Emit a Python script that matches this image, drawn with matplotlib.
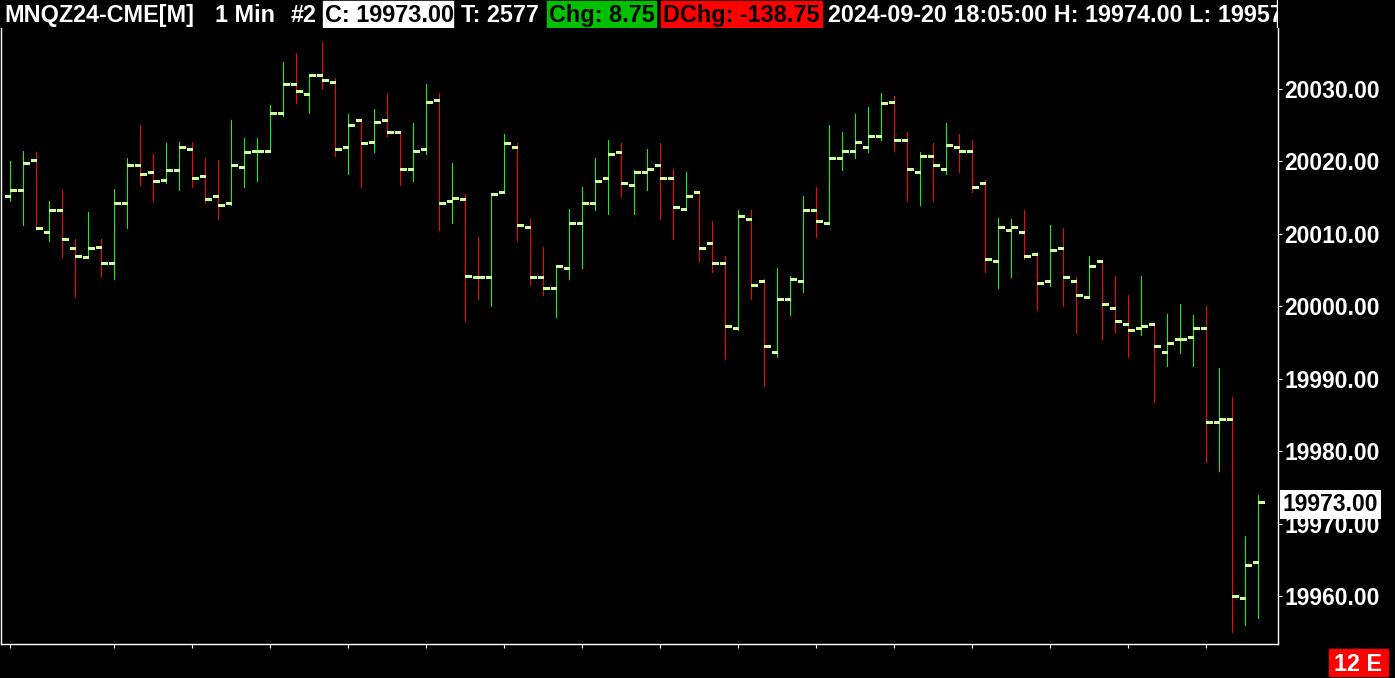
import numpy as np
import matplotlib
matplotlib.use('Agg')
import matplotlib.pyplot as plt
import matplotlib.transforms as mtransforms
from matplotlib.patches import Rectangle

# MNQZ24 1 minute bars (open, high, low, close)
opens = [20015.25, 20016.0, 20020.25, 20010.25, 20013.25, 20008.0, 20006.75, 20008.25, 20006.0, 20014.25,
         20019.5, 20018.5, 20017.5, 20018.75, 20021.75, 20018.0, 20015.25, 20014.25, 20019.25, 20021.5,
         20021.5, 20026.75, 20030.75, 20029.25, 20032.0, 20031.0, 20022.0, 20025.75, 20022.75, 20025.75,
         20024.0, 20019.0, 20021.75, 20028.5, 20014.5, 20014.75, 20004.0, 20004.0, 20015.75, 20022.0,
         20011.0, 20004.0, 20002.5, 20005.25, 20011.5, 20014.25, 20017.75, 20021.25, 20016.75, 20018.5,
         20019.5, 20017.75, 20013.5, 20015.75, 20008.75, 20006.0, 19997.0, 20012.0, 20003.5, 19993.75,
         20001.0, 20003.5, 20013.25, 20011.5, 20020.5, 20021.5, 20022.0, 20023.5, 20028.25, 20023.0,
         20018.5, 20020.75, 20019.0, 20022.0, 20021.5, 20017.0, 20006.25, 20010.5, 20010.25, 20007.25,
         20003.5, 20008.0, 20003.5, 20001.25, 20006.25, 19999.75, 19997.5, 19997.0, 19997.5, 19993.75,
         19995.5, 19995.75, 19997.0, 19984.0, 19984.5, 19959.75, 19964.75]
highs = [20020.0, 20021.5, 20021.25, 20014.5, 20016.0, 20009.25, 20013.0, 20009.25, 20016.25, 20020.5,
         20025.0, 20021.0, 20022.5, 20022.75, 20022.75, 20020.5, 20020.25, 20025.75, 20023.25, 20023.25,
         20027.75, 20033.75, 20035.0, 20032.0, 20036.5, 20031.5, 20026.5, 20026.0, 20027.25, 20029.25,
         20024.25, 20025.25, 20030.75, 20029.5, 20019.75, 20015.5, 20009.5, 20015.5, 20023.75, 20022.5,
         20012.0, 20008.25, 20005.5, 20013.5, 20016.5, 20020.5, 20023.0, 20022.5, 20018.75, 20021.75,
         20022.5, 20019.0, 20018.5, 20015.75, 20011.75, 20007.0, 20013.25, 20013.25, 20003.75, 20005.25,
         20004.25, 20015.25, 20016.5, 20025.0, 20024.0, 20026.5, 20027.5, 20029.5, 20029.0, 20024.0,
         20021.25, 20022.5, 20025.25, 20023.75, 20023.0, 20017.5, 20012.25, 20012.0, 20013.25, 20007.5,
         20011.25, 20010.75, 20004.0, 20007.0, 20006.25, 20004.25, 20001.5, 20004.25, 19997.5, 19999.0,
         20000.25, 19998.75, 20000.0, 19991.5, 19987.5, 19968.25, 19974.0]
lows = [20014.5, 20011.25, 20010.5, 20009.0, 20006.75, 20001.25, 20006.75, 20004.25, 20003.75, 20010.75,
        20016.75, 20014.5, 20017.0, 20016.0, 20016.5, 20014.25, 20012.0, 20014.0, 20016.5, 20017.25,
        20021.25, 20026.25, 20028.0, 20026.75, 20030.0, 20020.75, 20018.25, 20016.5, 20021.25, 20023.5,
        20016.75, 20017.25, 20021.0, 20010.5, 20011.5, 19998.0, 20001.0, 20000.0, 20015.75, 20009.0,
        20003.0, 20001.5, 19998.5, 20003.75, 20005.25, 20013.25, 20012.75, 20015.25, 20012.75, 20016.0,
        20012.0, 20009.25, 20013.5, 20006.25, 20004.75, 19992.75, 19996.75, 20001.0, 19989.0, 19993.0,
        19998.75, 20002.0, 20009.5, 20011.5, 20018.75, 20020.5, 20021.25, 20023.0, 20021.5, 20014.5,
        20014.0, 20014.5, 20018.25, 20018.5, 20015.75, 20004.75, 20002.5, 20004.0, 20006.5, 19999.5,
        20002.75, 20000.0, 19996.25, 20001.25, 19995.5, 19996.25, 19993.0, 19996.0, 19986.75, 19991.75,
        19993.5, 19991.75, 19978.5, 19977.25, 19955.0, 19956.0, 19957.0]
closes = [20016.0, 20019.75, 20010.75, 20013.25, 20009.25, 20007.0, 20008.0, 20006.0, 20014.25, 20019.5,
          20018.25, 20017.25, 20018.75, 20022.0, 20017.75, 20014.75, 20014.0, 20019.5, 20021.25, 20021.5,
          20026.75, 20030.75, 20029.75, 20032.0, 20031.25, 20021.75, 20025.0, 20022.5, 20025.5, 20024.0,
          20019.0, 20021.5, 20028.25, 20014.25, 20015.0, 20004.25, 20004.0, 20015.5, 20022.5, 20011.25,
          20004.0, 20002.5, 20005.5, 20011.5, 20014.25, 20017.25, 20021.0, 20017.0, 20018.5, 20019.0,
          20017.75, 20013.75, 20015.25, 20008.0, 20006.0, 19997.25, 20012.5, 20003.0, 19994.5, 20001.0,
          20003.75, 20013.25, 20011.75, 20020.5, 20021.5, 20022.75, 20023.5, 20028.0, 20023.0, 20019.0,
          20020.75, 20019.5, 20022.25, 20021.5, 20016.5, 20006.5, 20011.0, 20011.0, 20007.0, 20003.25,
          20007.75, 20004.0, 20001.5, 20005.5, 20000.25, 19998.0, 19996.75, 19997.25, 19994.5, 19995.0,
          19995.5, 19997.0, 19984.0, 19984.5, 19960.0, 19964.25, 19973.0]

price_ticks = [19960, 19970, 19980, 19990, 20000, 20010, 20020, 20030]
time_tick_bars = [0, 8, 14, 20, 26, 32, 38, 44, 50, 56, 62, 68, 74, 80, 86, 92]
last_price = 19973.00

W, H = 1395, 678
plt.rcParams['font.family'] = ['Liberation Sans', 'DejaVu Sans']
fig = plt.figure(figsize=(W / 100, H / 100), dpi=100, facecolor='black')

# main price pane (pixel layout)
left_px, right_px, top_px, bottom_px = 0.5, 1278.0, 28.0, 644.0
ax = fig.add_axes([left_px / W, 1 - bottom_px / H, (right_px - left_px) / W, (bottom_px - top_px) / H])
ax.set_facecolor('black')

n = len(closes)
idx = np.arange(n)
o = np.array(opens); h = np.array(highs); l = np.array(lows); c = np.array(closes)
prev_c = np.concatenate([[c[0]], c[:-1]])
up = (c > o) | ((c == o) & (c >= prev_c))
bar_colors = np.where(up, '#00ff00', '#ff0000')
tick_color = '#ccff99'

# crisp 1px bars and 3px open/close ticks
ax.vlines(idx, l, h, colors=bar_colors, lw=0.6, antialiased=False)
ax.hlines(o, idx - 0.42, idx, colors=tick_color, lw=2.16, capstyle='butt', antialiased=False)
ax.hlines(c, idx, idx + 0.46, colors=tick_color, lw=2.16, capstyle='butt', antialiased=False)

# bar i sits at x = 10 + 13 i pixels, 20030 at y=89 px, 7.243 px per point
ax.set_xlim((left_px - 10) / 13, (right_px - 10) / 13)
px_per_pt = (596 - 89) / 70.0
ax.set_ylim(20030 - (bottom_px - 89) / px_per_pt, 20030 + (89 - top_px) / px_per_pt)

ax.yaxis.tick_right()
ax.set_yticks(price_ticks)
ax.set_yticklabels([f'{v:.2f}' for v in price_ticks], fontweight='bold')
ax.tick_params(axis='y', colors='white', direction='out', length=3, width=0.8, pad=1.5, labelsize=16.5)
ax.set_xticks(time_tick_bars)
ax.set_xticklabels([])
ax.tick_params(axis='x', colors='white', direction='out', length=3, width=0.8)

for side in ['left', 'right', 'bottom']:
    ax.spines[side].set_color('white')
    ax.spines[side].set_linewidth(1.0)
ax.spines['top'].set_visible(False)

# last price marker on the price scale
trans = mtransforms.blended_transform_factory(ax.transAxes, ax.transData)
ax.text(1 + 5 / (right_px - left_px), last_price, f'{last_price:.2f}', transform=trans,
        ha='left', va='center_baseline', color='black', fontsize=16.5, fontweight='bold',
        bbox=dict(facecolor='white', edgecolor='none', boxstyle='square', pad=0.12), clip_on=False, zorder=5)

# header line
hax = fig.add_axes([0, 1 - 28 / H, 1278 / W, 28 / H])
hax.set_xlim(0, 1278)
hax.set_ylim(28, 0)
hax.axis('off')
hax.add_patch(Rectangle((323, 1), 130, 26, color='white'))
hax.add_patch(Rectangle((547, 1), 109, 26, color='#00c000'))
hax.add_patch(Rectangle((661, 1), 161, 26, color='#ff0000'))

header = [
    (4, 'MNQZ24-CME[M]', 'white'),
    (215, '1 Min', 'white'),
    (291, '#2', 'white'),
    (325, 'C: 19973.00', 'black'),
    (461, 'T: 2577', 'white'),
    (549, 'Chg: 8.75', 'black'),
    (663, 'DChg: -138.75', 'black'),
    (828, '2024-09-20 18:05:00 H: 19974.00 L: 19957.00', 'white'),
]
for x, s, col in header:
    hax.text(x, 22, s, ha='left', va='baseline', color=col, fontsize=16.8, fontweight='bold', clip_on=True)
hax.add_patch(Rectangle((1276.5, 0), 1.5, 28, color='white'))

# bottom right badge
fig.add_artist(Rectangle((1329 / W, 1 - 676 / H), 59 / W, 27 / H, transform=fig.transFigure, color='#ff0000'))
fig.text(1358.5 / W, 1 - 671 / H, '12 E', ha='center', va='baseline', color='white', fontsize=16.8, fontweight='bold')

fig.savefig('out.png', dpi=100, facecolor='black')
